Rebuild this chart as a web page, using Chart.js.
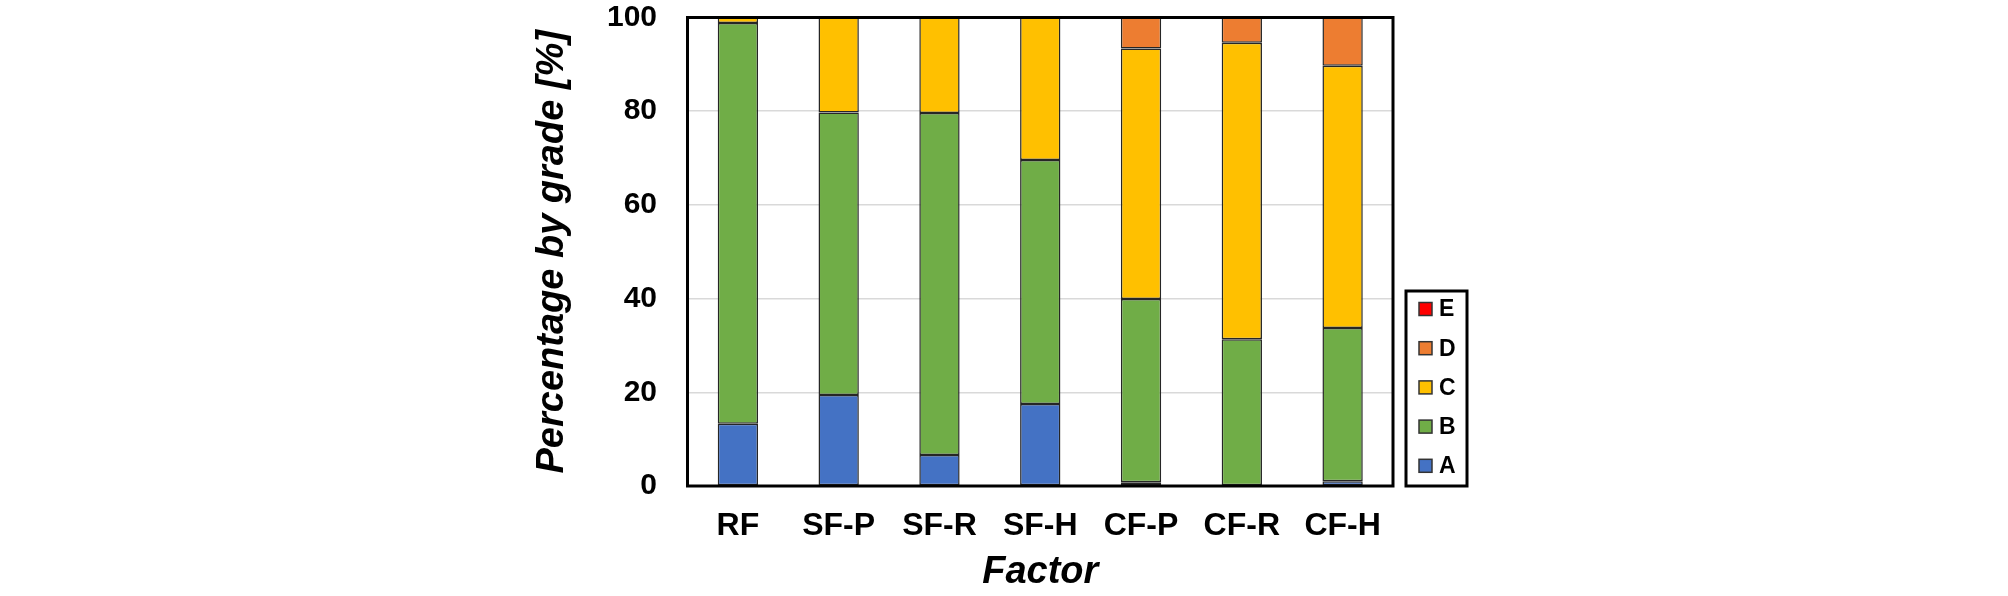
<!DOCTYPE html>
<html>
<head>
<meta charset="utf-8">
<script src="https://cdn.jsdelivr.net/npm/chart.js@4/dist/chart.umd.min.js"></script>
<style>
  html, body { margin: 0; padding: 0; background: #fff; }
  #wrap { width: 2008px; height: 596px; }
</style>
</head>
<body>
<div id="wrap"><canvas id="c" width="2008" height="596"></canvas></div>
<script>
const categories = ["RF", "SF-P", "SF-R", "SF-H", "CF-P", "CF-R", "CF-H"];
const gradeA = [13.3, 19.4, 6.6, 17.5, 0.8, 0, 1.0];
const gradeB = [85.5, 60.3, 73.0, 52.1, 39.1, 31.3, 32.7];
const gradeC = [1.2, 20.3, 20.4, 30.4, 53.5, 63.3, 56.0];
const gradeD = [0, 0, 0, 0, 6.6, 5.4, 10.3];
const gradeE = [0, 0, 0, 0, 0, 0, 0];
const yTicks = [0, 20, 40, 60, 80, 100];
const yTitle = "Percentage by grade [%]";
const xTitle = "Factor";

const FONT = "'Liberation Sans', Arial, sans-serif";
const colors = { A: "#4472C4", B: "#70AD47", C: "#FFC000", D: "#ED7D31", E: "#FF0000" };

function ds(label, data) {
  return {
    label: label,
    data: data,
    backgroundColor: colors[label],
    borderColor: "#262626",
    borderWidth: (ctx) => (ctx.raw ? 1.5 : 0),
    borderSkipped: false,
    categoryPercentage: 1.0,
    barPercentage: 0.4
  };
}

const frameLegend = {
  id: "frameLegend",
  afterDraw(chart) {
    const ctx = chart.ctx;
    const a = chart.chartArea;
    ctx.save();
    ctx.strokeStyle = "#000";
    ctx.lineWidth = 3;
    ctx.strokeRect(a.left, a.top, a.right - a.left, a.bottom - a.top);
    const bx = a.right + 13, bw = 61, bh = 195;
    const by = a.bottom - bh;
    ctx.fillStyle = "#fff";
    ctx.fillRect(bx, by, bw, bh);
    ctx.strokeRect(bx, by, bw, bh);
    const items = chart.data.datasets.slice().reverse();
    ctx.font = "bold 23px " + FONT;
    ctx.textBaseline = "middle";
    ctx.textAlign = "left";
    items.forEach((d, i) => {
      const cy = by + 18 + i * 39.2;
      ctx.fillStyle = d.backgroundColor;
      ctx.fillRect(bx + 13, cy - 6.5, 13, 13);
      ctx.lineWidth = 1.5;
      ctx.strokeStyle = "#333";
      ctx.strokeRect(bx + 13, cy - 6.5, 13, 13);
      ctx.fillStyle = "#000";
      ctx.fillText(d.label, bx + 33, cy + 1);
    });
    ctx.restore();
  }
};

new Chart(document.getElementById("c"), {
  type: "bar",
  data: {
    labels: categories,
    datasets: [ds("A", gradeA), ds("B", gradeB), ds("C", gradeC), ds("D", gradeD), ds("E", gradeE)]
  },
  options: {
    responsive: false,
    animation: false,
    devicePixelRatio: 1,
    layout: { padding: { left: 510, right: 615, top: 17.5, bottom: 0 } },
    plugins: { legend: { display: false }, tooltip: { enabled: false } },
    scales: {
      x: {
        stacked: true,
        grid: { display: false, drawTicks: false },
        border: { display: false },
        ticks: { color: "#000", padding: 24, font: { family: FONT, size: 32, weight: "bold", lineHeight: 1 } },
        title: { display: true, text: xTitle, color: "#000", padding: { top: 0, bottom: 4.5 },
                 font: { family: FONT, size: 38, weight: "bold", style: "italic", lineHeight: 1 } },
        afterFit(s) { s.height = 110; }
      },
      y: {
        stacked: true,
        min: 0, max: 100,
        afterBuildTicks(s) { s.ticks = yTicks.map(v => ({ value: v })); },
        grid: { color: "#d9d9d9", lineWidth: 1.5, drawTicks: true, tickLength: 30.5, tickColor: "rgba(0,0,0,0)" },
        border: { display: false },
        ticks: { color: "#000", padding: 0, font: { family: FONT, size: 30, weight: "bold", lineHeight: 1 } },
        title: { display: true, text: yTitle, color: "#000", padding: { top: 24, bottom: 0 },
                 font: { family: FONT, size: 38, weight: "bold", style: "italic", lineHeight: 1 } },
        afterFit(s) { s.width = 177.5; }
      }
    }
  },
  plugins: [frameLegend]
});
</script>
</body>
</html>
